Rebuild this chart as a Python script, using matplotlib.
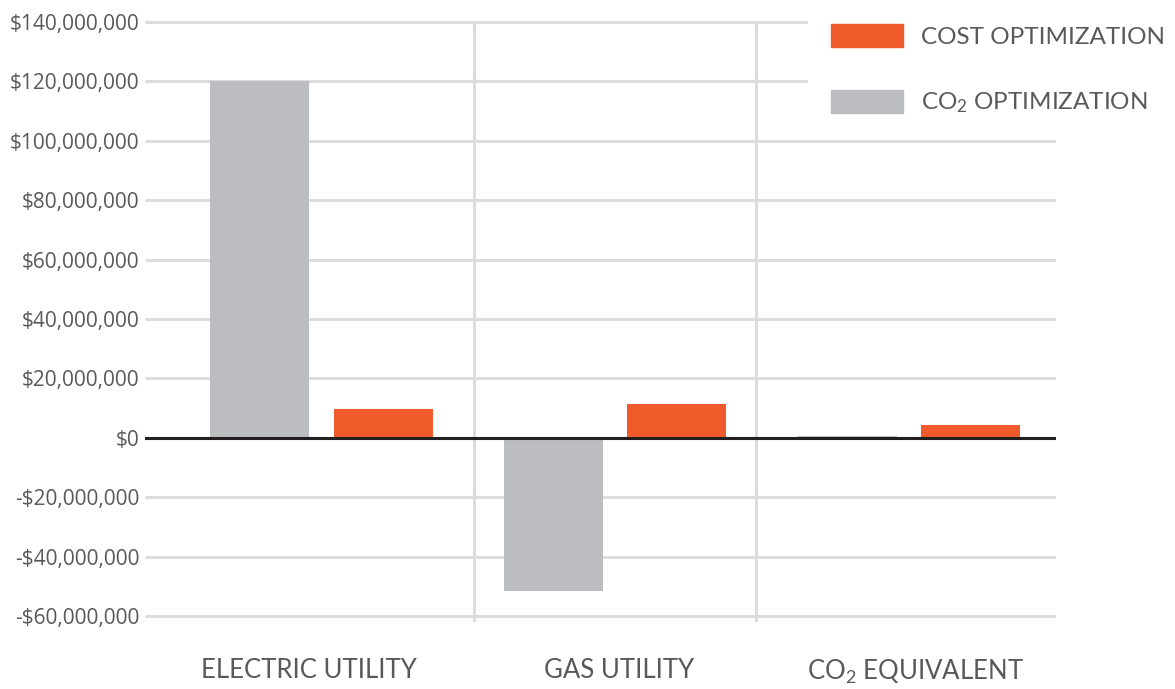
import matplotlib
matplotlib.use("Agg")
import matplotlib.pyplot as plt
import matplotlib.transforms as mtransforms
from matplotlib.patches import Patch

plt.rcParams['font.family'] = ['Lato', 'DejaVu Sans']
plt.rcParams['mathtext.default'] = 'regular'

categories = ["ELECTRIC UTILITY", "GAS UTILITY", "CO$_2$ EQUIVALENT"]
co2_opt = [120_000_000, -51_400_000, 700_000]
cost_opt = [9_800_000, 11_400_000, 4_400_000]
series_labels = ["COST OPTIMIZATION", "CO$_2$ OPTIMIZATION"]
yticks = [-60_000_000, -40_000_000, -20_000_000, 0, 20_000_000, 40_000_000,
          60_000_000, 80_000_000, 100_000_000, 120_000_000, 140_000_000]

def fmt(v):
    if v == 0:
        return "$0"
    s = f"${abs(v):,}"
    return ("-" + s) if v < 0 else s

ORANGE = "#f15a2b"
GRAY = "#bcbdc0"
TXT = "#58595b"
GRID = "#dcdcdc"

W, H = 1175, 689
fig = plt.figure(figsize=(W / 100, H / 100), dpi=100)
top_px, bot_px = 19.03, 622.0
ax = fig.add_axes([145 / W, (H - bot_px) / H, (1056 - 145) / W, (bot_px - top_px) / H])
ax.set_xlim(-0.6, 2.5)
ax.set_ylim(-62_000_000, 141_000_000)
for s in ax.spines.values():
    s.set_visible(False)

# gridlines
ax.hlines(yticks, -0.6, 2.5, colors=GRID, linewidth=2.2, zorder=0)
# separators
ax.vlines([0.52, 1.48], -62_000_000, 140_000_000, colors=GRID, linewidth=2.2, zorder=0)

x = list(range(len(categories)))
off = 0.21
bw = 0.337
ax.bar([i - off for i in x], co2_opt, width=bw, color=GRAY, zorder=2)
ax.bar([i + off for i in x], cost_opt, width=bw, color=ORANGE, zorder=2)

ax.axhline(0, color="#231f20", linewidth=2.2, zorder=3)

ax.set_yticks(yticks)
ax.set_yticklabels([fmt(v) for v in yticks], family=['Open Sans', 'DejaVu Sans'],
                   fontsize=15, color=TXT)
ax.set_xticks(x)
ax.set_xticklabels(categories, fontsize=18.5, color=TXT)
ax.tick_params(axis='y', length=0, pad=4)
ax.tick_params(axis='x', length=0, pad=26)
for lab, dx in zip(ax.get_xticklabels(), [-12, 4, 6]):
    lab.set_transform(lab.get_transform() +
                      mtransforms.ScaledTranslation(dx / 100, 0, fig.dpi_scale_trans))

fs = 17.5
px = fs * 100 / 72
leg = ax.legend(handles=[Patch(color=ORANGE), Patch(color=GRAY)], labels=series_labels,
                loc='upper left', bbox_to_anchor=(808 / W, 1 - 1 / H),
                bbox_transform=fig.transFigure, frameon=True, fancybox=False,
                facecolor='white', edgecolor='none', framealpha=1,
                fontsize=fs, borderpad=23 / px, borderaxespad=0,
                handlelength=72 / px, handleheight=26 / px, handletextpad=18 / px,
                labelspacing=42 / px)
for t in leg.get_texts():
    t.set_color(TXT)
leg.set_zorder(10)

fig.savefig("out.png", dpi=100)
